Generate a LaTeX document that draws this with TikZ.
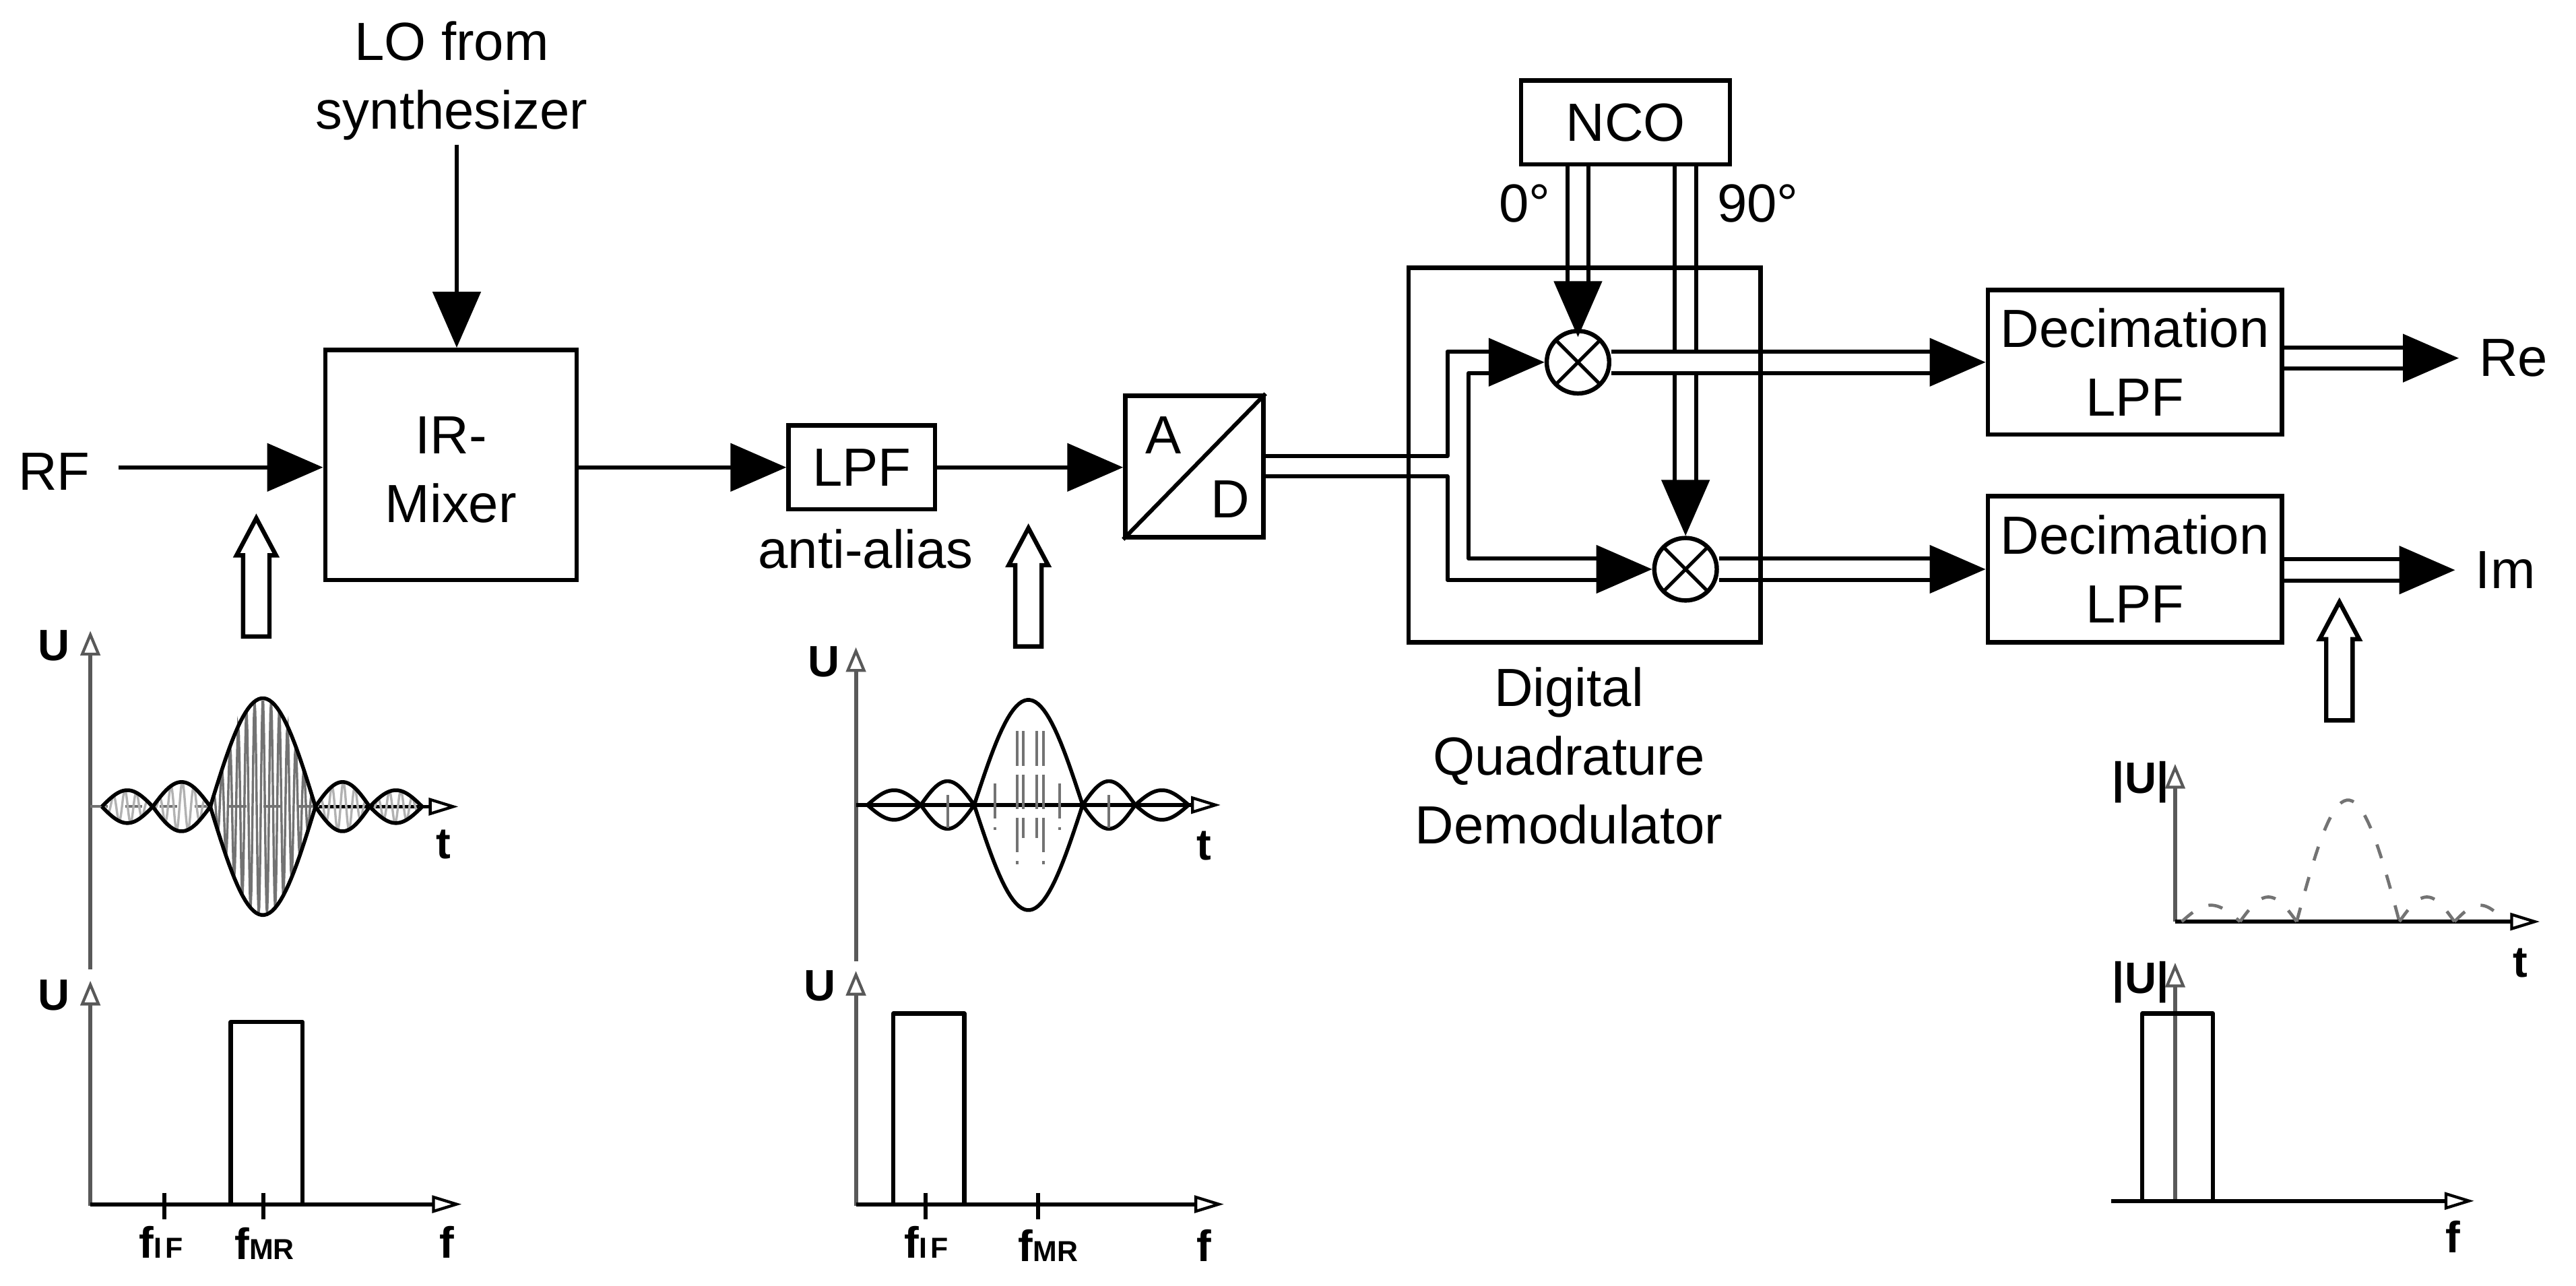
\documentclass[tikz,border=0pt]{standalone}
\usepackage{fontspec}
\usepackage{tikz}
\usetikzlibrary{arrows.meta,shapes.arrows}
\setmainfont{Liberation Sans}
\tikzset{
    box/.style={draw, line width=0.75pt, inner sep=0pt},
    txt/.style={font=\fontsize{9.3}{11.9}\selectfont, align=center},
    lab/.style={font=\fontsize{7.6}{9}\selectfont\bfseries, inner sep=0pt},
    wire/.style={line width=0.7pt, line join=round},
    sig/.style={wire, -{Triangle[length=3.4mm,width=2.9mm]}},
    dbl/.style={line width=0.7pt, double, double distance=3pt},
    dblsig/.style={dbl, -{Triangle[length=3.4mm,width=2.9mm]}},
    mixer/.style={circle, draw, line width=0.75pt, minimum size=3.8mm, inner sep=0pt, fill=white,
        path picture={\draw[line width=0.6pt] (path picture bounding box.south west) -- (path picture bounding box.north east)
            (path picture bounding box.north west) -- (path picture bounding box.south east);}},
    probe/.style={draw, line width=0.75pt, single arrow, rotate=90, inner sep=0.67mm, minimum height=7.2mm,
        minimum width=2.15mm, single arrow head extend=0.4mm, single arrow tip angle=56},
    yaxis/.style={draw=black!65, line width=0.7pt, -{Triangle[open,length=1.5mm,width=1.2mm,line width=0.5pt]}},
    xaxis/.style={line width=0.7pt, -{Triangle[open,length=1.8mm,width=1.05mm,line width=0.5pt]}},
    spec/.style={line width=0.75pt, line join=round},
    env/.style={line width=0.65pt, line join=round},
    carrier/.style={draw=black!55, line width=0.45pt, dash pattern=on 6pt off 1.5pt}
}
\newcommand{\smalllab}{\fontsize{5}{5}\selectfont}
\begin{document}
\begin{tikzpicture}[x=0.01cm, y=-0.01cm]
    \useasboundingbox (0,0) rectangle (1568,782.4);
    % Nodes
    \node[txt] (rf) at (33,287) {RF};
    \node[txt] (lo) at (275,49) {LO from\\synthesizer};
    \node[box, minimum width=1.53cm, minimum height=1.4cm] (irmixer) at (274.5,283) {};
    \node[txt] (irmixertxt) at (274.5,286) {IR-\\Mixer};
    \node[box, txt, minimum width=0.89cm, minimum height=0.51cm] (lpf) at (524.5,284.5) {LPF};
    \node[txt] (antialias) at (527,334) {anti-alias};
    \node[box, minimum width=0.84cm, minimum height=0.86cm] (ad) at (727,284) {};
    \node[txt] (adA) at (708,265) {A};
    \node[txt] (adD) at (749,304) {D};
    \node[box, txt, minimum width=1.27cm, minimum height=0.51cm] (nco) at (989.5,74.5) {NCO};
    \node[txt] (deg0) at (928,124) {0°};
    \node[txt] (deg90) at (1070,124) {90°};
    \node[mixer] (mixa) at (960.5,220.5) {};
    \node[mixer] (mixb) at (1026,346.5) {};
    \node[txt] (demodtxt) at (955,460) {Digital\\Quadrature\\Demodulator};
    \node[box, txt, minimum width=1.79cm, minimum height=0.88cm] (deca) at (1299.5,220.5) {Decimation\\LPF};
    \node[box, txt, minimum width=1.79cm, minimum height=0.89cm] (decb) at (1299.5,346.5) {Decimation\\LPF};
    \node[txt] (re) at (1530,218) {Re};
    \node[txt] (im) at (1525,347) {Im};
    \node[probe] (proba) at (156,359) {};
    \node[probe] (probb) at (626,365) {};
    \node[probe] (probc) at (1424,410) {};
    % Free ends
    \coordinate (rfin) at (72,284.5);
    \coordinate (loin) at (278,88);
    \coordinate (ada) at (769,277.6);
    \coordinate (adb) at (769,290);
    \coordinate (stuba) at (900,220.5);
    \coordinate (stubb) at (960,346.5);
    % Edges
    \draw[sig] (rfin) -- (rfin -| irmixer.west);
    \draw[sig] (loin) -- (irmixer.north -| loin);
    \draw[sig] (irmixer.east |- lpf) -- (lpf.west);
    \draw[sig] (lpf.east) -- (lpf.east -| ad.west);
    \draw[wire] (ad.south west) -- (ad.north east);
    \draw[dblsig] (nco.south -| mixb) -- (mixb.north);
    \draw[dblsig, shorten >=-0.5mm] (nco.south -| mixa) -- (mixa);
    \draw[dblsig] (mixa) -- (deca.west);
    \draw[dblsig] (mixb) -- (decb.west);
    \draw[dblsig] (deca.east |- re) -- (re.west);
    \draw[dblsig] (decb.east |- im) -- (im.west);
    \draw[wire] (ada) -- (881,277.6) -- (881,214) -- (900,214);
    \draw[wire] (900,227) -- (894,227) -- (894,340) -- (960,340);
    \draw[wire] (adb) -- (881,290) -- (881,353) -- (960,353);
    \draw[dblsig] (stuba) -- (mixa);
    \draw[dblsig] (stubb) -- (mixb);
    \node[box, minimum width=2.14cm, minimum height=2.28cm] (demod) at (964.5,277) {};
    % Left plots
    \node[lab] (ua) at (33,393) {U};
    \node[lab] (ub) at (33,606) {U};
    \node[lab] (ta) at (270,514) {t};
    \node[lab] (fa) at (272,756) {f};
    \node[lab] (fifa) at (98,756) {f{\smalllab I\kern.6pt F}};
    \node[lab] (fmra) at (161,757) {f{\smalllab MR}};
    \draw[yaxis] (55,590) -- (55,384);
    \draw[yaxis] (55,734) -- (55,597);
    \draw[draw=black!55, line width=0.45pt, dashed] (55,491) -- (192,491);
    \draw[line width=0.6pt, -{Triangle[open,length=1.8mm,width=1.05mm,line width=0.5pt]}] (192,491) -- (279,491);
    \foreach \a/\b/\h/\p/\c in {128/192/66/5/55,93/128/15/7/30,62/93/10/7/30,192/225/15/7/30,225/257/10/7/30}{
        \draw[draw=black!\c, line width=0.4pt] plot[domain=\a:\b, samples=160] (\x,{491-\h*sin(180*(\x-\a)/(\b-\a))*cos(360/\p*(\x-160))});
        \draw[env] plot[domain=\a:\b, samples=40] (\x,{491-\h*sin(180*(\x-\a)/(\b-\a))});
        \draw[env] plot[domain=\a:\b, samples=40] (\x,{491+\h*sin(180*(\x-\a)/(\b-\a))});
    }
    \draw[xaxis] (55,733) -- (281,733);
    \draw[spec] (140.5,733) -- (140.5,622) -- (184,622) -- (184,733);
    \draw[wire] (100,726) -- (100,742);
    \draw[wire] (160.5,726) -- (160.5,742);
    % Middle plots
    \node[lab] (uc) at (501.5,403) {U};
    \node[lab] (ud) at (499,600) {U};
    \node[lab] (tb) at (733,515) {t};
    \node[lab] (fb) at (733,758) {f};
    \node[lab] (fifb) at (564,756) {f{\smalllab I\kern.6pt F}};
    \node[lab] (fmrb) at (638,758) {f{\smalllab MR}};
    \draw[yaxis] (521,585) -- (521,394);
    \draw[yaxis] (521,734) -- (521,591);
    \draw[line width=0.6pt, -{Triangle[open,length=1.8mm,width=1.05mm,line width=0.5pt]}] (521,490) -- (743,490);
    \foreach \a/\b/\h in {593/659/64,560.5/593/14.5,528/560.5/9,659/691/14.5,691/723.5/9}{
        \draw[env] plot[domain=\a:\b, samples=40] (\x,{490-\h*sin(180*(\x-\a)/(\b-\a))});
        \draw[env] plot[domain=\a:\b, samples=40] (\x,{490+\h*sin(180*(\x-\a)/(\b-\a))});
    }
    \foreach \x/\u/\d in {605.5/13/15,619/45/36,623/45/20,631/45/20,635/45/36,645/13/15,577/6/14,675/6/14}{
        \draw[carrier] (\x,490-\u) -- (\x,490+\d);
    }
    \draw[xaxis] (521,733) -- (745,733);
    \draw[spec] (543.7,733) -- (543.7,617) -- (587,617) -- (587,733);
    \draw[wire] (563.5,726) -- (563.5,742);
    \draw[wire] (632,726) -- (632,742);
    % Right plots
    \node[lab] (ue) at (1303,476) {|U|};
    \node[lab] (uf) at (1303,598) {|U|};
    \node[lab] (tc) at (1534,586) {t};
    \node[lab] (fc) at (1493,753) {f};
    \draw[yaxis] (1324,561) -- (1324,465);
    \draw[xaxis] (1324,561) -- (1546,561);
    \foreach \a/\b/\h in {1398/1460.5/74,1363.5/1398/15,1328/1363.5/10,1460.5/1494/15,1494/1525/10}{
        \draw[draw=black!55, line width=0.55pt, dash pattern=on 2.5pt off 3pt] plot[domain=\a:\b, samples=40] (\x,{561-\h*sin(180*(\x-\a)/(\b-\a))});
    }
    \draw[yaxis] (1324,731) -- (1324,586);
    \draw[xaxis] (1285,731) -- (1506,731);
    \draw[spec] (1304,731) -- (1304,617) -- (1347,617) -- (1347,731);
\end{tikzpicture}
\end{document}
